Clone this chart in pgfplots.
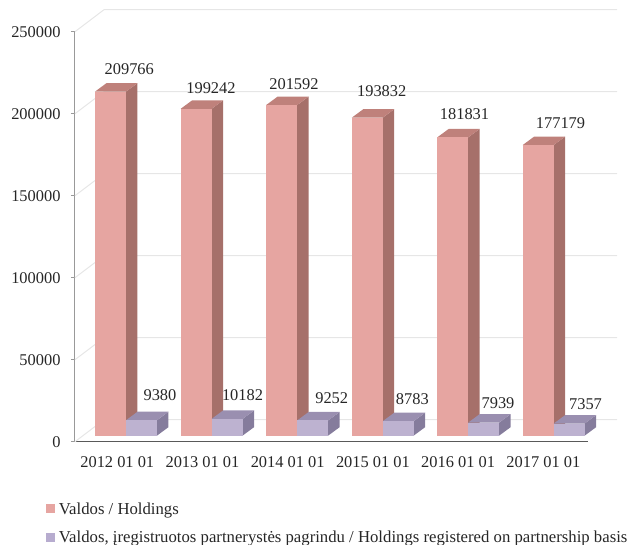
\documentclass[border=0pt]{standalone}
\usepackage{pgfplots}
\pgfplotsset{compat=1.18}
\usepackage{fontspec}
\setmainfont{Liberation Serif}

\definecolor{pinkfront}{HTML}{E6A5A1}
\definecolor{pinkside}{HTML}{A6706A}
\definecolor{pinktop}{HTML}{BF817B}
\definecolor{lilacfront}{HTML}{BDB2D0}
\definecolor{lilacside}{HTML}{857C9C}
\definecolor{lilactop}{HTML}{9A8FB0}
\definecolor{lilackey}{HTML}{B7ACCF}
\definecolor{wallgrid}{HTML}{E6E6E6}

\newcommand\lbl{\fontsize{16.4}{20}\selectfont}
\newcommand\lgd{\fontsize{16.72}{20}\selectfont}

% one gridline: side wall diagonal + back wall line (1 px = 609.76 units)
\newcommand\wallline[1]{%
  \edef\yb{\the\numexpr#1+13415\relax}%
  \addplot[wallgrid, line width=1pt, forget plot] coordinates {(0,#1) (29,\yb) (542,\yb)};%
}
% one 3D box: left edge, width, value, front/side/top colours
\newcommand\boxbar[6]{%
  \pgfmathsetmacro\xa{#1}%
  \pgfmathsetmacro\xb{#1+#2}%
  \pgfmathsetmacro\xc{#1+#2+11.5}%
  \pgfmathsetmacro\xd{#1+11.5}%
  \edef\ya{3700}%
  \edef\yt{\the\numexpr#3+3700\relax}%
  \edef\yc{8880}%
  \edef\yd{\the\numexpr#3+8880\relax}%
  \addplot[fill=#5, draw=none, forget plot] coordinates {(\xb,\ya) (\xc,\yc) (\xc,\yd) (\xb,\yt)} --cycle;%
  \addplot[fill=#6, draw=none, forget plot] coordinates {(\xa,\yt) (\xb,\yt) (\xc,\yd) (\xd,\yd)} --cycle;%
  \addplot[fill=#4, draw=none, forget plot] coordinates {(\xa,\ya) (\xb,\ya) (\xb,\yt) (\xa,\yt)} --cycle;%
}

\begin{document}
\begin{tikzpicture}
\path[use as bounding box] (-75pt,-103.3pt) rectangle (555pt,441.7pt);
\begin{axis}[
    scale only axis,
    width=513pt,
    height=410pt,
    xmin=0, xmax=513,
    ymin=0, ymax=250000,
    clip=false,
    axis x line*=bottom,
    axis y line*=left,
    x axis line style={color=black!65, line width=1pt},
    y axis line style={color=black!40, line width=1pt},
    xtick={42.3,127.5,212.7,297.9,383.1,468.3},
    xticklabels={2012 01 01,2013 01 01,2014 01 01,2015 01 01,2016 01 01,2017 01 01},
    x tick style={draw=none},
    ytick={0,50000,100000,150000,200000,250000},
    y tick style={color=black!40, line width=0.8pt},
    tick align=outside,
    major tick length=4pt,
    scaled y ticks=false,
    tick label style={font=\lbl, text=black!85},
    x tick label style={yshift=-7pt},
    y tick label style={xshift=-7pt},
    /pgf/number format/fixed,
    /pgf/number format/precision=0,
    /pgf/number format/assume math mode=true,
    /pgf/number format/1000 sep={},
    legend style={
        at={(axis cs:-29,-35800)}, anchor=north west,
        draw=none, fill=none, inner sep=0pt, outer sep=0pt,
        row sep=11.7pt, font=\lgd, text=black!85,
    },
    legend cell align=left,
    legend image code/.code={\fill[#1] (0pt,-4.5pt) rectangle (9pt,4.5pt); \path (11pt,0pt);},
]
\wallline{0}
\wallline{50000}
\wallline{100000}
\wallline{150000}
\wallline{200000}
\wallline{250000}

\boxbar{20}{31}{209766}{pinkfront}{pinkside}{pinktop}
\boxbar{51}{31}{9380}{lilacfront}{lilacside}{lilactop}
\boxbar{105.6}{31}{199242}{pinkfront}{pinkside}{pinktop}
\boxbar{136.6}{31}{10182}{lilacfront}{lilacside}{lilactop}
\boxbar{191.2}{31}{201592}{pinkfront}{pinkside}{pinktop}
\boxbar{222.2}{31}{9252}{lilacfront}{lilacside}{lilactop}
\boxbar{276.7}{31}{193832}{pinkfront}{pinkside}{pinktop}
\boxbar{307.7}{31}{8783}{lilacfront}{lilacside}{lilactop}
\boxbar{362.2}{31}{181831}{pinkfront}{pinkside}{pinktop}
\boxbar{393.2}{31}{7939}{lilacfront}{lilacside}{lilactop}
\boxbar{447.7}{31}{177179}{pinkfront}{pinkside}{pinktop}
\boxbar{478.7}{31}{7357}{lilacfront}{lilacside}{lilactop}

% value labels
\addplot[draw=none, mark=none, forget plot, point meta=explicit symbolic,
    nodes near coords,
    every node near coord/.append style={anchor=center, font=\lbl, text=black!85, inner sep=0pt},
] table[meta=label] {
x y label
54.3 227258 209766
136.0 215672 199242
219.0 218111 201592
306.7 213843 193832
389.5 199818 181831
485.5 194513 177179
85.0 28476 9380
167.5 28476 10182
256.7 26647 9252
337.3 26037 8783
423.0 23598 7939
510.5 22988 7357
};

\addlegendimage{fill=pinkfront, draw=none}
\addlegendentry{Valdos / Holdings}
\addlegendimage{fill=lilackey, draw=none}
\addlegendentry{Valdos, įregistruotos partnerystės pagrindu / Holdings registered on partnership basis}
\end{axis}
\end{tikzpicture}
\end{document}
